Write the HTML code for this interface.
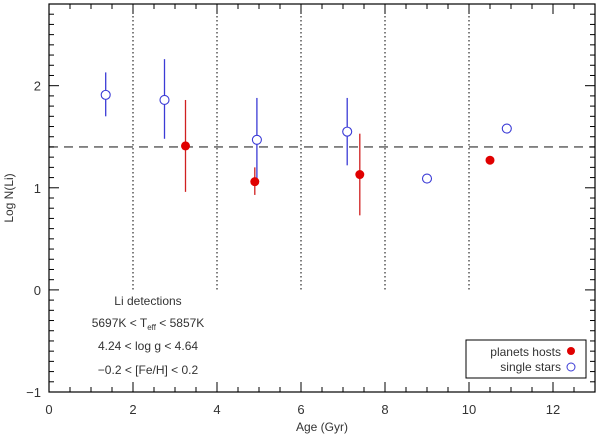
<!DOCTYPE html>
<html><head><meta charset="utf-8"><style>
body{margin:0;background:#fff;}
svg{display:block;font-family:"Liberation Sans",sans-serif;}
</style></head><body>
<svg id="c" width="600" height="435"></svg>
<script>
const xTicks=[0,2,4,6,8,10,12];
const yTicks=[-1,0,1,2];
const hostAge=[3.25,4.9,7.4,10.5];
const hostLi=[1.41,1.06,1.13,1.27];
const hostLo=[0.96,0.93,0.73,null];
const hostHi=[1.86,1.20,1.53,null];
const singleAge=[1.35,2.75,4.95,7.1,9.0,10.9];
const singleLi=[1.91,1.86,1.47,1.55,1.09,1.58];
const singleLo=[1.70,1.48,1.05,1.22,null,null];
const singleHi=[2.13,2.26,1.88,1.88,null,null];
const refLi=1.4;
const gridAges=[2,4,6,8,10];

const L=49,R=595,T=4,B=392;
const X=v=>L+v*(R-L)/13;
const Y=v=>B-(v+1)*(B-T)/3.8;
const s=document.getElementById('c');
const NS='http://www.w3.org/2000/svg';
function mk(t,a,p){const e=document.createElementNS(NS,t);for(const k in a)e.setAttribute(k,a[k]);(p||s).appendChild(e);return e;}

gridAges.forEach(a=>{const e=mk('line',{x1:X(a),x2:X(a),y1:T,y2:Y(0),stroke:'#000','stroke-width':1,'stroke-dasharray':'1.5,2.5'});

});
const rl=mk('line',{x1:L,x2:R,y1:Y(refLi),y2:Y(refLi),stroke:'#555','stroke-width':1.3,'stroke-dasharray':'9,6'});



const ax=mk('rect',{x:L,y:T,width:R-L,height:B-T,fill:'none',stroke:'#000','stroke-width':1.2});


for(let v=0;v<=13;v+=0.5){const maj=v%2===0;const l=maj?10:5;
mk('line',{x1:X(v),x2:X(v),y1:B,y2:B-l,stroke:'#000'});mk('line',{x1:X(v),x2:X(v),y1:T,y2:T+l,stroke:'#000'});}
for(let i=-10;i<=28;i++){const v=i/10;const maj=i%10===0;const l=maj?10:5;
mk('line',{x1:L,x2:L+l,y1:Y(v),y2:Y(v),stroke:'#000'});mk('line',{x1:R,x2:R-l,y1:Y(v),y2:Y(v),stroke:'#000'});}
xTicks.forEach(v=>{const t=mk('text',{x:X(v),y:414,'text-anchor':'middle','font-size':13,fill:'#333'});t.textContent=v;

});
yTicks.forEach(v=>{const t=mk('text',{x:L-8,y:Y(v)+5,'text-anchor':'end','font-size':13,fill:'#333'});t.textContent=v===-1?'\u22121':v;

});
const xt=mk('text',{x:X(6.5),y:431,'text-anchor':'middle','font-size':12,fill:'#333'});xt.textContent='Age (Gyr)';


const yt=mk('text',{x:13,y:Y(0.9),'text-anchor':'middle','font-size':12,fill:'#333',transform:`rotate(-90 13 ${Y(0.9)})`});yt.textContent='Log N(Li)';



singleAge.forEach((a,i)=>{if(singleLo[i]!==null){const e=mk('line',{x1:X(a),x2:X(a),y1:Y(singleLo[i]),y2:Y(singleHi[i]),stroke:'#3b3bd6','stroke-width':1.3});

}
const c=mk('circle',{cx:X(a),cy:Y(singleLi[i]),r:4.5,fill:'#fff',stroke:'#3b3bd6','stroke-width':1.1});

});
hostAge.forEach((a,i)=>{if(hostLo[i]!==null){const e=mk('line',{x1:X(a),x2:X(a),y1:Y(hostLo[i]),y2:Y(hostHi[i]),stroke:'#d02020','stroke-width':1.3});

}
const c=mk('circle',{cx:X(a),cy:Y(hostLi[i]),r:4.5,fill:'#e00000'});

});

const ann=[['Li detections',305,148],['',327,148],['4.24 < log g < 4.64',350,148],['\u22120.2 < [Fe/H] < 0.2',374,148]];
ann.forEach(r=>{if(!r[0])return;const t=mk('text',{x:r[2],y:r[1],'text-anchor':'middle','font-size':12,fill:'#333'});t.textContent=r[0];

});
const te=mk('text',{x:148,y:327,'text-anchor':'middle','font-size':12,fill:'#333'});


te.innerHTML='5697K &lt; T<tspan font-size="8" dy="3">eff</tspan><tspan dy="-3"> &lt; 5857K</tspan>';

const g=mk('g',{});


mk('rect',{x:466,y:340,width:120,height:38,fill:'#fff',stroke:'#000','stroke-width':1},g);
const t1=mk('text',{x:561,y:356,'text-anchor':'end','font-size':12,fill:'#333'},g);t1.textContent='planets hosts';


mk('circle',{cx:571,cy:351,r:4,fill:'#e00000'},g);
const t2=mk('text',{x:561,y:371,'text-anchor':'end','font-size':12,fill:'#333'},g);t2.textContent='single stars';


mk('circle',{cx:571,cy:367,r:4,fill:'#fff',stroke:'#3b3bd6'},g);
</script>
</body></html>
